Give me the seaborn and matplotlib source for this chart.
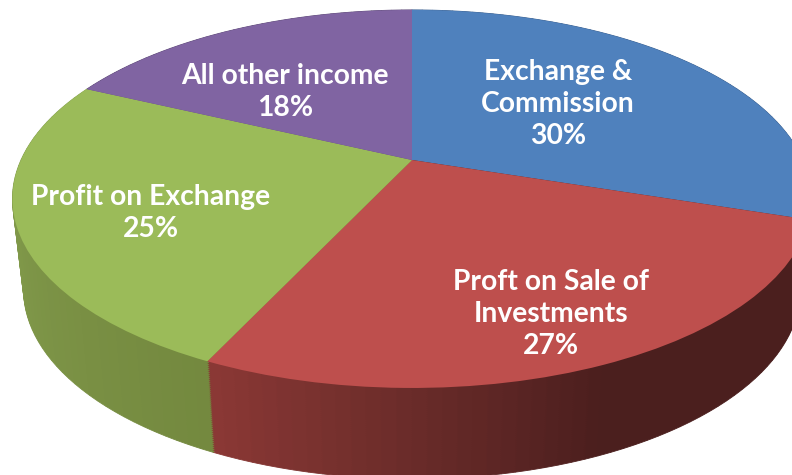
import numpy as np
import matplotlib
matplotlib.use("Agg")
import matplotlib.pyplot as plt
from matplotlib.transforms import Transform
import seaborn as sns

categories = ["Exchange &\nCommission", "Proft on Sale of\nInvestments", "Profit on Exchange", "All other income"]
values = [30, 27, 25, 18]
top_colors = ["#4F81BD", "#BE4F4D", "#9BBB59", "#8064A2"]
wall_colors = [["#3A6090", "#3A6090"], ["#4B1F1E", "#4B1F1E", "#8A3835"], ["#74893F", "#8BA653"], ["#5E4A78", "#5E4A78"]]
label_pos = [(558, 104), (551, 314), (151, 213), (285, 92)]

CX, CY, RX, RY, K = 412.0, 160.0, 391.0, 181.0, 0.206
DEPTH, SHRINK = 91.0, 0.028
LAYERS = 46
STEPS_PER_PERCENT = 2

sns.set_theme(style="white")
plt.rcParams["font.family"] = ["Lato", "DejaVu Sans"]


class Tilted(Transform):
    input_dims = output_dims = 2
    is_separable = False
    has_inverse = False

    def __init__(self, t=0.0):
        super().__init__()
        self.t = t

    def transform_non_affine(self, xy):
        xy = np.asarray(xy, dtype=float)
        w = 1 + K * xy[:, 1]
        x = CX + RX * (1 - SHRINK * self.t) * xy[:, 0] / w
        y = CY - RY * xy[:, 1] / w + DEPTH * self.t
        return np.column_stack([x, y])


fig, ax = plt.subplots(figsize=(7.92, 4.75), dpi=100)
fig.subplots_adjust(0, 0, 1, 1)

# side wall: stacked thin pie layers, fine slices carry the shading
fine_values, fine_colors = [], []
for v, pal in zip(values, wall_colors):
    n = v * STEPS_PER_PERCENT
    fine_values += [v / n] * n
    fine_colors += sns.blend_palette(pal, n)

for t in np.linspace(1, 0, LAYERS):
    wedges, _ = ax.pie(fine_values, colors=fine_colors, startangle=90, counterclock=False,
                       radius=1, center=(0, 0))
    tr = Tilted(t) + ax.transData
    for w, c in zip(wedges, fine_colors):
        w.set_transform(tr)
        w.set_edgecolor(c)
        w.set_linewidth(0.6)

# top face
wedges, _ = ax.pie(values, colors=sns.color_palette(top_colors), startangle=90, counterclock=False,
                   radius=1, center=(0, 0))
for w in wedges:
    w.set_transform(Tilted(0) + ax.transData)
    w.set_linewidth(0)

ax.set_aspect("auto")
ax.set_xlim(0, 792)
ax.set_ylim(475, 0)
ax.axis("off")

for name, v, (x, y) in zip(categories, values, label_pos):
    ax.text(x, y, f"{name}\n{v}%", color="white", fontsize=20.3, fontweight="bold",
            ha="center", va="center", linespacing=1.3, zorder=10)

fig.savefig("out.png", dpi=100)
